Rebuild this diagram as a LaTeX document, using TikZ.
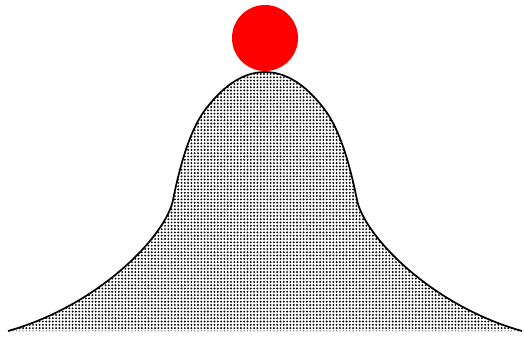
\documentclass[tikz,border=0pt]{standalone}
\usetikzlibrary{patterns.meta}
\tikzset{
  hillfill/.style={draw=none, pattern={Dots[distance=3.3pt, radius=1.05pt]}, pattern color=black},
  hillline/.style={draw=black, line width=1.7pt, line join=round, line cap=butt},
  ballstyle/.style={circle, fill=red, draw=none, inner sep=0pt, minimum size=66pt}
}
\newcommand{\hillcurve}{(8,331)
  .. controls (100,305) and (166,235) .. (173,200)
  .. controls (180,165) and (190,130) .. (205,110)
  .. controls (220,90) and (240,72) .. (265,72)
  .. controls (290,72) and (310,90) .. (325,110)
  .. controls (340,130) and (350,165) .. (357,200)
  .. controls (364,235) and (430,305) .. (522,331)}
\begin{document}
\begin{tikzpicture}[x=1pt, y=-1pt]
\useasboundingbox (0,0) rectangle (524,338);
\fill[white] (0,0) rectangle (524,338);
\path[hillfill] \hillcurve -- cycle;
\draw[hillline] \hillcurve;
\node[ballstyle] (ball) at (265,38) {};
\end{tikzpicture}
\end{document}
